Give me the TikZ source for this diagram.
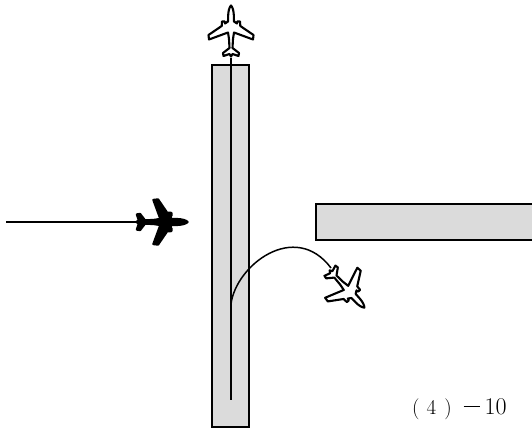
\documentclass[tikz,border=0pt]{standalone}
\usepackage{fontspec}
\tikzset{
  x=1pt,y=1pt,
  strip/.style={draw=black,fill=black!14,line width=2pt},
  track/.style={draw=black,line width=1.7pt},
  planeshape/.pic={
    \path[pic actions,line join=round]
      (0,25.5) .. controls (1.8,23.5) and (2.6,20) .. (2.8,16)
      -- (3,9.5) -- (6,7.5) -- (6.3,9.5) -- (9,9.5) -- (9.3,5)
      -- (22.5,-4) -- (22,-8.5) -- (3,-1.5) -- (2,-8) -- (1.5,-17) -- (8,-22) -- (7.5,-25)
      -- (1.5,-23) -- (0,-25.5) -- (-1.5,-23) -- (-7.5,-25) -- (-8,-22) -- (-1.5,-17)
      -- (-2,-8) -- (-3,-1.5) -- (-22,-8.5) -- (-22.5,-4) -- (-9.3,5) -- (-9,9.5) -- (-6.3,9.5)
      -- (-6,7.5) -- (-3,9.5) -- (-2.8,16) .. controls (-2.6,20) and (-1.8,23.5) .. (0,25.5) -- cycle;
  },
  whiteplane/.style={draw=black,fill=white,line width=2.1pt},
  blackplane/.style={draw=black,fill=black,line width=2.4pt}
}
\begin{document}
\begin{tikzpicture}
\useasboundingbox (0,0) rectangle (532,430);
\path[clip] (0,0) rectangle (532,430);
\path[strip] (212,365) rectangle (249,3);
\path[strip] (316,226) rectangle (540,190);
\coordinate (lineTop) at (231,372);
\coordinate (lineEnd) at (231,30);
\coordinate (turn) at (231,126);
\coordinate (exit) at (331,162);
\coordinate (tailEnd) at (6,208);
\coordinate (tailPlane) at (137,208);
\draw[track] (lineTop) -- (lineEnd);
\draw[draw=black,line width=1.5pt] (turn) .. controls (236,165) and (295,210) .. (exit);
\draw[draw=black,line width=1.5pt] (tailEnd) -- (tailPlane);
\pic[whiteplane] (p1) at (231,399) {planeshape};
\pic[blackplane,rotate=-90] (p2) at (162,208) {planeshape};
\pic[whiteplane,rotate=-137] (p3) at (347,141) {planeshape};
\node[inner sep=0pt,anchor=base west,font=\fontsize{21}{24}\selectfont] (cap) at (412,15) {(\hspace{7pt}4\hspace{8pt})\hspace{12pt}\rule[8pt]{16pt}{1.2pt}\hspace{5pt}{\fontsize{24}{26}\selectfont 10}};
\end{tikzpicture}
\end{document}
